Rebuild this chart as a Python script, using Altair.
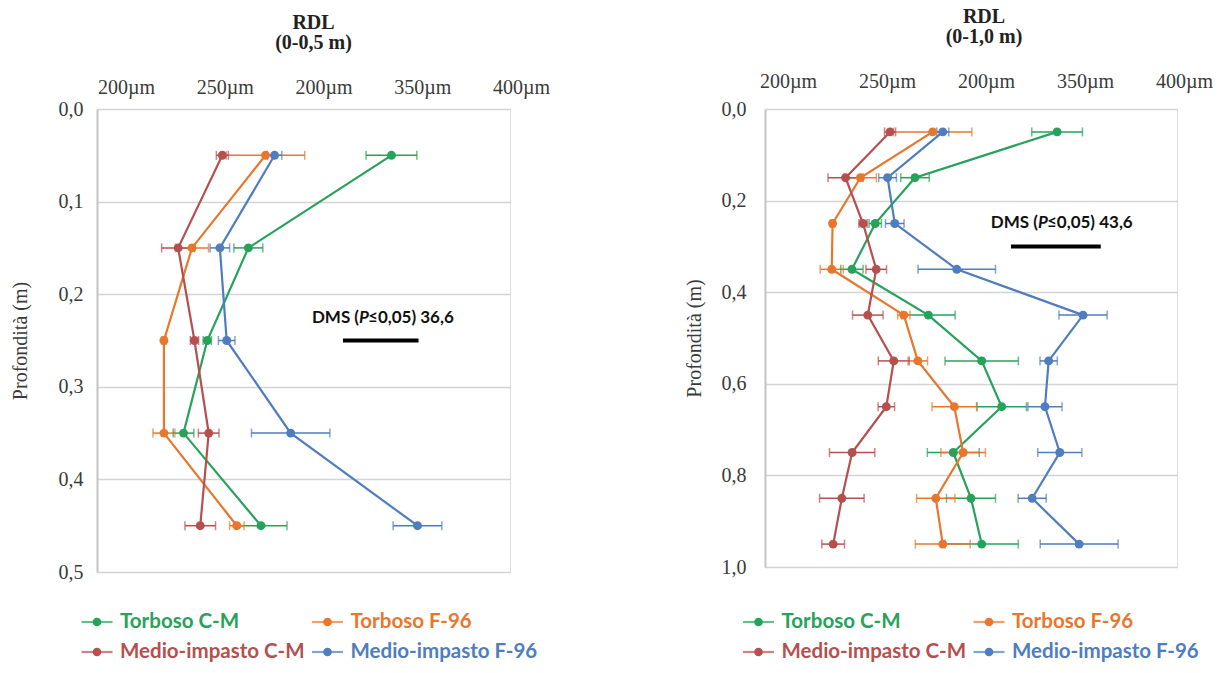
import altair as alt
import pandas as pd

# ---------------- data ----------------
series = ["Torboso C-M", "Torboso F-96", "Medio-impasto C-M", "Medio-impasto F-96"]
colors = ["#27a25a", "#e8772e", "#b5504f", "#4f7dbd"]

x_tick_values = [200, 250, 300, 350, 400]
x_tick_labels = ["200µm", "250µm", "200µm", "350µm", "400µm"]

# Left panel: RDL (0-0,5 m)
depth_a = [0.05, 0.15, 0.25, 0.35, 0.45]
a_vals = {
    "Torboso C-M":        [342.6, 273.3, 253.4, 241.9, 279.4],
    "Torboso F-96":       [281.6, 246.0, 232.4, 232.4, 267.7],
    "Medio-impasto C-M":  [260.7, 239.3, 247.2, 254.1, 250.0],
    "Medio-impasto F-96": [286.0, 259.5, 262.8, 293.8, 355.2],
}
a_errs = {
    "Torboso C-M":        [12.3, 7.0, 2.0, 5.0, 12.6],
    "Torboso F-96":       [19.0, 8.0, 1.0, 5.3, 3.5],
    "Medio-impasto C-M":  [2.9, 8.0, 2.0, 5.0, 7.4],
    "Medio-impasto F-96": [3.5, 4.7, 4.0, 19.0, 11.8],
}
a_y_ticks = [0.0, 0.1, 0.2, 0.3, 0.4, 0.5]
a_dms = 36.6

# Right panel: RDL (0-1,0 m)
depth_b = [0.05, 0.15, 0.25, 0.35, 0.45, 0.55, 0.65, 0.75, 0.85, 0.95]
b_vals = {
    "Torboso C-M":        [341.8, 272.8, 253.5, 242.2, 279.3, 305.2, 314.9, 291.4, 300.0, 305.2],
    "Torboso F-96":       [281.4, 246.3, 232.8, 232.4, 267.4, 274.2, 291.9, 296.2, 282.9, 286.3],
    "Medio-impasto C-M":  [260.7, 239.1, 247.6, 254.0, 249.9, 262.5, 258.9, 242.3, 237.3, 233.1],
    "Medio-impasto F-96": [286.3, 259.5, 263.0, 293.1, 354.4, 337.7, 335.9, 343.1, 329.7, 352.5],
}
b_errs = {
    "Torboso C-M":        [12.3, 6.9, 3.0, 5.4, 13.0, 17.8, 12.0, 12.6, 11.9, 17.8],
    "Torboso F-96":       [19.0, 7.8, 1.0, 5.6, 3.0, 4.7, 10.8, 10.8, 9.3, 13.3],
    "Medio-impasto C-M":  [2.7, 8.5, 2.0, 5.0, 7.4, 7.5, 4.0, 11.0, 10.8, 5.5],
    "Medio-impasto F-96": [2.9, 4.3, 4.5, 18.8, 11.7, 4.2, 8.3, 10.7, 6.8, 18.9],
}
b_y_ticks = [0.0, 0.2, 0.4, 0.6, 0.8, 1.0]
b_dms = 43.6

SERIF = "Liberation Serif"
SANS = "Lato"
TXT = "#3a3a3a"


def long_df(depths, vals, errs):
    rows = []
    for s in series:
        for d, v, e in zip(depths, vals[s], errs[s]):
            rows.append({"series": s, "depth": d, "value": v, "lo": v - e, "hi": v + e})
    return pd.DataFrame(rows)


label_expr = " : ".join(
    f"datum.value == {v} ? '{l}'" for v, l in zip(x_tick_values, x_tick_labels)
) + " : ''"


def panel(depths, vals, errs, y_ticks, ymax, width, height, title, title_dx,
          label_range, label_pad, y_label_pad, y_title_pad,
          dms, dms_x, dms_y, dms_text_x, dms_text_y, leg_x_range, leg_y_range):
    df = long_df(depths, vals, errs)
    xs = alt.Scale(domain=[200, 400], nice=False, zero=False)
    ys = alt.Scale(domain=[0, ymax], reverse=True, nice=False, zero=False)
    cs = alt.Scale(domain=series, range=colors)
    y_axis = alt.Axis(
        values=y_ticks,
        labelExpr="replace(format(datum.value, '.1f'), '.', ',')",
        title="Profondità (m)",
        titleFont=SERIF, titleFontSize=20, titleFontWeight="normal", titleColor=TXT,
        titlePadding=y_title_pad,
        labelFont=SERIF, labelFontSize=20, labelColor=TXT, labelPadding=y_label_pad,
        ticks=False, grid=True, gridColor="#d4d4d4", gridWidth=1.5,
        domain=True, domainColor="#c4c4c4", domainWidth=2,
    )
    y_enc = alt.Y("depth:Q", scale=ys, axis=y_axis)
    col = alt.Color("series:N", scale=cs, legend=None)
    base = alt.Chart(df)
    bars = base.mark_rule(strokeWidth=1.5).encode(
        x=alt.X("lo:Q", scale=xs, axis=None), x2="hi:Q", y=y_enc, color=col,
    )
    cap_lo = base.mark_tick(orient="vertical", size=9, thickness=1.5).encode(
        x=alt.X("lo:Q", scale=xs, axis=None), y=y_enc, color=col,
    )
    cap_hi = base.mark_tick(orient="vertical", size=9, thickness=1.5).encode(
        x=alt.X("hi:Q", scale=xs, axis=None), y=y_enc, color=col,
    )
    lines = base.mark_line(strokeWidth=2.2).encode(
        x=alt.X("value:Q", scale=xs, axis=None), y=y_enc, color=col,
        order=alt.Order("depth:Q"),
    )
    pts = base.mark_point(filled=True, size=80, opacity=1).encode(
        x=alt.X("value:Q", scale=xs, axis=None), y=y_enc, color=col,
    )
    dms_df = pd.DataFrame({"x": [dms_x], "x2": [dms_x + dms], "depth": [dms_y]})
    dms_bar = alt.Chart(dms_df).mark_rule(strokeWidth=4, color="black").encode(
        x=alt.X("x:Q", scale=xs, axis=None), x2="x2:Q", y=y_enc
    )
    t_df = pd.DataFrame({"x": [dms_text_x], "depth": [dms_text_y],
                         "a": ["DMS ("], "p": ["P"], "b": [f"≤0,05) {str(dms).replace('.', ',')}"]})
    tx = alt.X("x:Q", scale=xs, axis=None)
    tstyle = dict(font=SANS, fontSize=17, fontWeight="bold", baseline="middle", color="#111")
    t1 = alt.Chart(t_df).mark_text(align="right", **tstyle).encode(x=tx, y=y_enc, text="a:N")
    t2 = alt.Chart(t_df).mark_text(align="left", fontStyle="italic", **tstyle).encode(x=tx, y=y_enc, text="p:N")
    t3 = alt.Chart(t_df).mark_text(align="left", dx=9, **tstyle).encode(x=tx, y=y_enc, text="b:N")

    inner = alt.layer(bars, cap_lo, cap_hi, lines, pts, dms_bar, t1, t2, t3)

    # top label axis (labels are placed as in the original figure)
    lab_df = pd.DataFrame({"tick": x_tick_values})
    lab = alt.Chart(lab_df).mark_point(opacity=0).encode(
        x=alt.X("tick:Q", scale=alt.Scale(domain=[200, 400], range=label_range, nice=False, zero=False),
                axis=alt.Axis(orient="top", values=x_tick_values, labelExpr=label_expr,
                              ticks=False, domain=False, grid=False, title=None,
                              labelFont=SERIF, labelFontSize=20, labelColor=TXT,
                              labelPadding=label_pad, labelFlush=False, labelOverlap=False))
    )

    # legend (2 x 2 grid, line-with-dot symbols, coloured labels)
    leg_df = pd.DataFrame({"series": series,
                           "col": [i % 2 for i in range(len(series))],
                           "row": [i // 2 for i in range(len(series))]})
    lx = alt.X("col:Q", scale=alt.Scale(domain=[0, 1], range=leg_x_range, nice=False, zero=False), axis=None)
    ly = alt.Y("row:Q", scale=alt.Scale(domain=[0, 1], range=leg_y_range, nice=False, zero=False), axis=None)
    lbase = alt.Chart(leg_df)
    leg_line = lbase.mark_tick(orient="horizontal", size=31, thickness=2.2).encode(x=lx, y=ly, color=col)
    leg_dot = lbase.mark_point(filled=True, size=75, opacity=1).encode(x=lx, y=ly, color=col)
    leg_txt = lbase.mark_text(align="left", baseline="middle", dx=23, font=SANS, fontSize=20.5,
                              fontWeight="bold").encode(x=lx, y=ly, text="series:N", color=col)
    legend = alt.layer(leg_line, leg_dot, leg_txt)

    return alt.layer(lab, legend, inner).resolve_scale(x="independent", y="independent").properties(
        width=width, height=height,
        title=alt.Title(title, font=SERIF, fontSize=20, fontWeight="bold", color="#222",
                        anchor="middle", dx=title_dx, offset=24, lineHeight=20),
    )


left = panel(depth_a, a_vals, a_errs, a_y_ticks, 0.5, 413, 463, ["RDL", "(0-0,5 m)"], 10,
             [29, 424], 12, 14, 28,
             a_dms, 319.1, 0.25, 326.9, 0.2256, [0, 230.5], [513, 543])
right = panel(depth_b, b_vals, b_errs, b_y_ticks, 1.0, 412, 458, ["RDL", "(0-1,0 m)"], 13,
              [23, 419], 18, 19, 17,
              b_dms, 319.4, 0.30, 332.5, 0.249, [-6.5, 224], [513, 543])

chart = alt.hconcat(left, right, spacing=132).properties(
    padding={"left": 9, "top": 6, "right": 5, "bottom": 5}
).configure_view(strokeWidth=0).configure(background="white")

chart.save("out.html", embed_options={"renderer": "svg", "actions": False})
